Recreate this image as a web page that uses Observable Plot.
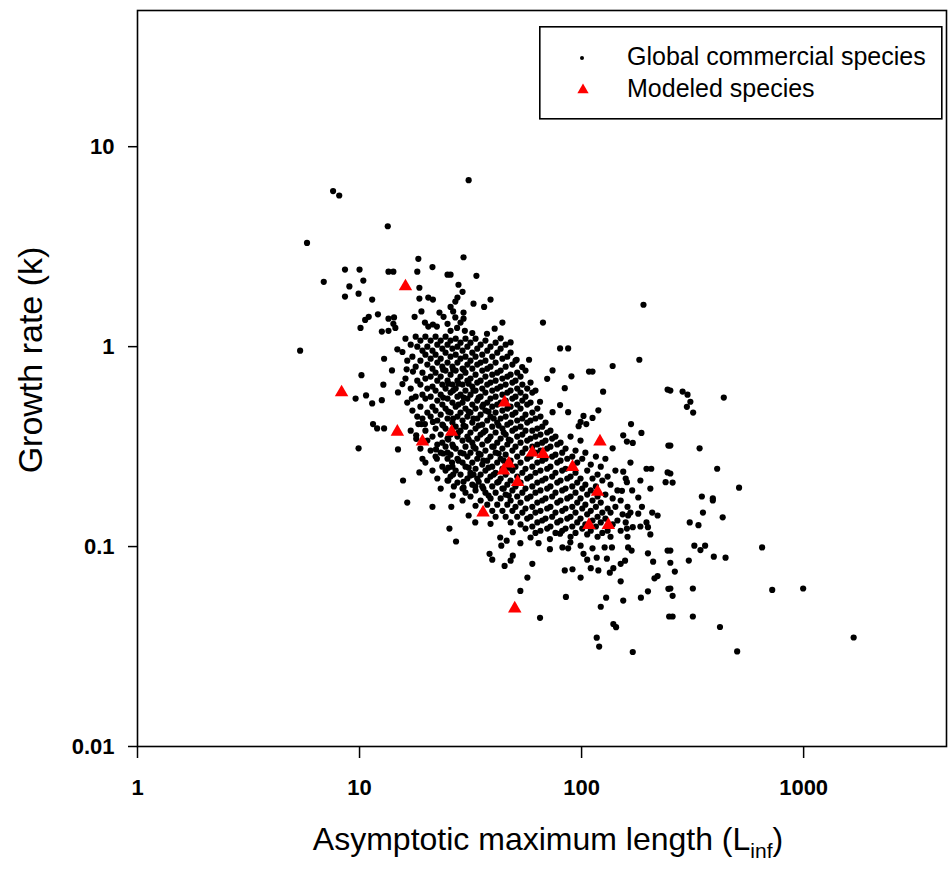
<!DOCTYPE html>
<html><head><meta charset="utf-8">
<script src="https://cdn.jsdelivr.net/npm/d3@7"></script>
<script src="https://cdn.jsdelivr.net/npm/@observablehq/plot@0.6"></script>
<style>
body{margin:0;background:#fff;font-family:"Liberation Sans",Arial,sans-serif}
#wrap{position:relative;width:948px;height:869px;overflow:hidden}
#xlab{position:absolute;left:548px;top:823px;transform:translateX(-50%);font-size:32px;line-height:32px;white-space:nowrap}
#xlab sub{font-size:21px;vertical-align:-8px;line-height:0}
#ylab{position:absolute;left:30px;top:360px;transform:translate(-50%,-50%) rotate(-90deg);font-size:34px;line-height:34px;white-space:nowrap}
#legend{position:absolute;left:539px;top:26px}
</style></head><body><div id="wrap"></div>
<script>
// Global commercial species: [Linf, k]
const globalPoints = [
[31,6.8],[7.6,6.0],[8.1,5.7],[13.4,4.0],[5.8,3.3],[18.4,2.75],[29.4,2.8],[21.3,2.5],[8.6,2.43],[10,2.43],
[13.5,2.37],[14.2,2.37],[18.2,2.37],[24.9,2.29],[25.7,2.29],[33.6,2.26],[6.9,2.11],[10.4,2.14],[9.0,2.0],[18.6,1.97],
[27.9,2.04],[29.1,1.88],[9.9,1.84],[8.6,1.78],[11.4,1.72],[18.6,1.74],[20.4,1.76],[21.4,1.72],[27.6,1.76],[27.0,1.68],
[32.6,1.64],[25.7,1.58],[11.0,1.41],[10.6,1.36],[12.1,1.45],[13.5,1.38],[14.3,1.40],[17.7,1.41],[19.0,1.5],[22.9,1.48],
[23.9,1.41],[26.4,1.5],[29.4,1.48],[27.0,1.40],[29.4,1.38],[19.7,1.32],[20.4,1.26],[21.4,1.29],[22.3,1.26],[10.1,1.24],
[12.6,1.19],[13.5,1.20],[14.2,1.30],[14.5,1.24],[24.9,1.30],[25.7,1.20],[27.5,1.24],[28.5,1.32],[29.8,1.20],[32.2,1.17],
[190,1.62],[67,1.32],[38.9,1.72],[36.4,1.58],[44,1.32],[40.6,1.23],[37.5,1.16],
[5.4,0.955],[10.2,0.72],[12.9,0.87],[14.0,0.76],[14.8,0.97],[15.6,0.94],[12.8,0.645],[15.6,0.65],[14.9,0.59],[9.6,0.55],
[10.7,0.57],[11.4,0.52],[12.6,0.54],[16.3,0.77],[17.4,0.75],[17.2,0.55],[11.5,0.41],[12.0,0.39],[12.9,0.39],[9.9,0.31],
[14.9,0.306],[18.0,0.36],[18.4,0.41],[19.0,0.41],[19.7,0.41],[21.4,0.42],[18.0,0.346],[22.1,0.306],[24.9,0.295],[26.1,0.263],
[22.3,0.275],[18.6,0.235],[15.7,0.214],[25.1,0.214],[26.6,0.20],[26.3,0.18],[29.4,0.197],[31.6,0.227],[33.2,0.20],
[80,0.98],[87,0.98],[182,0.86],[138,0.80],[108,0.75],[112,0.75],[125,0.595],[244,0.61],[74,0.76],[70,0.69],
[90,0.71],[84,0.62],[51,0.86],[58,0.86],[54,0.79],[65,0.53],[80,0.51],[87,0.47],[74,0.47],[102,0.45],
[112,0.44],[119,0.48],[99,0.42],[97,0.40],[105,0.41],[167,0.41],[154,0.36],[186,0.37],[170,0.33],[160,0.335],
[138,0.31],[246,0.32],[196,0.245],[206,0.245],[154,0.237],[160,0.21],[152,0.19],[244,0.235],[239,0.21],[180,0.176],
[38.9,0.13],[38.5,0.092],[39.6,0.086],[45,0.080],[47.9,0.085],[49,0.09],[60,0.082],[57,0.07],[53,0.06],[85,0.056],
[65,0.044],[99,0.07],[84,0.076],[91,0.077],[110,0.078],[119,0.076],[129,0.0555],[122,0.05],[154,0.0537],[185,0.0555],
[199,0.0597],[150,0.067],[139,0.041],[143,0.0395],[117,0.035],[120,0.0316],[170,0.0297],[220,0.143],[244,0.0955],[246,0.0615],
[248,0.0447],[213,0.0694],[220,0.0712],[210,0.084],[199,0.0925],
[180,0.146],[196,0.132],[199,0.125],[162,0.143],[160,0.123],[170,0.125],[43,0.111],[43.5,0.101],[46,0.107],[49,0.118],
[53,0.104],[58.9,0.111],[64,0.104],[72,0.109],[72,0.097],[80,0.116],[82,0.099],[87,0.098],[89,0.105],[99,0.101],
[102,0.092],[106,0.086],[112,0.098],[117,0.088],[127,0.099],[130,0.087],[137,0.099],[139,0.078],[134,0.074],[150,0.082],
[157,0.085],[168,0.0955],[162,0.099],
[16.4,0.166],[21.3,0.158],[25.9,0.158],[33.2,0.132],[25.4,0.123],[27.2,0.106],
[390,0.17],[352,0.148],[432,0.14],[307,0.132],[336,0.128],[322,0.101],[343,0.096],[360,0.101],[251,0.0955],[304,0.0851],
[394,0.089],[445,0.088],[650,0.099],[251,0.083],[263,0.075],[251,0.0617],[257,0.0567],[317,0.0617],[722,0.0607],[995,0.0617],
[257,0.0447],[317,0.0447],[420,0.0396],[502,0.0299],[1680,0.0351],
[285,0.596],[300,0.575],[309,0.53],[298,0.50],[318,0.468],[437,0.556],[251,0.603],[251,0.32],[340,0.31],[408,0.245],
[251,0.232],[257,0.209],[512,0.197],[348,0.178],[390,0.174],
// dense core
[16.1,1.096],[16.4,0.851],[16.1,0.692],[16.4,0.525],
[17,1.023],[17.3,0.891],[17,0.617],[17.3,0.479],[17,0.38],
[17.9,1.122],[18.2,1.0],[17.9,0.794],[18.2,0.676],[17.9,0.562],[18.2,0.447],
[18.8,1.072],[19.2,0.955],[18.8,0.851],[19.2,0.741],[18.8,0.646],[19.2,0.575],[18.8,0.501],[19.2,0.437],[18.8,0.309],[19.2,0.275],
[19.8,1.122],[20.2,1.0],[19.8,0.912],[20.2,0.813],[19.8,0.692],[20.2,0.617],[19.8,0.55],[20.2,0.468],[19.8,0.38],[20.2,0.339],[19.8,0.263],
[20.9,1.072],[21.3,0.955],[20.9,0.871],[21.3,0.776],[20.9,0.708],[21.3,0.631],[20.9,0.562],[21.3,0.501],[20.9,0.447],[21.3,0.355],[20.9,0.302],[21.3,0.24],
[22,1.122],[22.4,1.023],[22,0.912],[22.4,0.832],[22,0.741],[22.4,0.676],[22,0.603],[22.4,0.537],[22,0.479],[22.4,0.427],[22,0.389],[22.4,0.324],[22,0.282],[22.4,0.219],
[23.2,1.072],[23.6,0.977],[23.2,0.871],[23.6,0.794],[23.2,0.708],[23.6,0.646],[23.2,0.575],[23.6,0.513],[23.2,0.457],[23.6,0.407],[23.2,0.363],[23.6,0.331],[23.2,0.295],[23.6,0.251],[23.2,0.195],
[24.4,1.122],[24.9,1.023],[24.4,0.933],[24.9,0.832],[24.4,0.759],[24.9,0.676],[24.4,0.617],[24.9,0.55],[24.4,0.49],[24.9,0.437],[24.4,0.389],[24.9,0.347],[24.4,0.316],[24.9,0.275],[24.4,0.24],[24.9,0.214],
[25.7,1.072],[26.2,0.977],[25.7,0.891],[26.2,0.794],[25.7,0.724],[26.2,0.646],[25.7,0.589],[26.2,0.525],[25.7,0.468],[26.2,0.417],[25.7,0.363],[26.2,0.324],[25.7,0.288],[26.2,0.251],[25.7,0.224],
[27.1,1.096],[27.6,1.0],[27.1,0.912],[27.6,0.832],[27.1,0.759],[27.6,0.676],[27.1,0.617],[27.6,0.562],[27.1,0.501],[27.6,0.447],[27.1,0.398],[27.6,0.355],[27.1,0.309],[27.6,0.275],[27.1,0.24],[27.6,0.209],
[28.5,1.047],[29.1,0.955],[28.5,0.871],[29.1,0.776],[28.5,0.708],[29.1,0.646],[28.5,0.575],[29.1,0.525],[28.5,0.468],[29.1,0.427],[28.5,0.38],[29.1,0.339],[28.5,0.295],[29.1,0.263],[28.5,0.229],[29.1,0.195],
[30,1.096],[30.6,1.0],[30,0.891],[30.6,0.813],[30,0.741],[30.6,0.676],[30,0.603],[30.6,0.55],[30,0.49],[30.6,0.447],[30,0.398],[30.6,0.355],[30,0.316],[30.6,0.282],[30,0.251],[30.6,0.219],[30,0.186],
[31.6,1.047],[32.2,0.933],[31.6,0.851],[32.2,0.776],[31.6,0.692],[32.2,0.631],[31.6,0.575],[32.2,0.513],[31.6,0.468],[32.2,0.417],[31.6,0.372],[32.2,0.331],[31.6,0.295],[32.2,0.263],[31.6,0.234],[32.2,0.204],[31.6,0.178],
[33.3,1.096],[33.9,0.977],[33.3,0.891],[33.9,0.813],[33.3,0.724],[33.9,0.661],[33.3,0.603],[33.9,0.537],[33.3,0.49],[33.9,0.437],[33.3,0.389],[33.9,0.347],[33.3,0.309],[33.9,0.275],[33.3,0.245],[33.9,0.219],[33.3,0.191],
[35.1,1.023],[35.7,0.912],[35.1,0.832],[35.7,0.759],[35.1,0.676],[35.7,0.617],[35.1,0.562],[35.7,0.501],[35.1,0.457],[35.7,0.407],[35.1,0.363],[35.7,0.324],[35.1,0.288],[35.7,0.257],[35.1,0.229],[35.7,0.2],[35.1,0.17],
[36.9,1.072],[37.6,0.955],[36.9,0.851],[37.6,0.776],[36.9,0.708],[37.6,0.646],[36.9,0.589],[37.6,0.525],[36.9,0.479],[37.6,0.427],[36.9,0.38],[37.6,0.339],[36.9,0.302],[37.6,0.269],[36.9,0.24],[37.6,0.214],[36.9,0.186],[37.6,0.162],
[38.9,1.0],[39.6,0.891],[38.9,0.794],[39.6,0.724],[38.9,0.661],[39.6,0.603],[38.9,0.55],[39.6,0.501],[38.9,0.447],[39.6,0.398],[38.9,0.355],[39.6,0.316],[38.9,0.282],[39.6,0.251],[38.9,0.224],[39.6,0.2],[38.9,0.174],[39.6,0.151],
[41,1.047],[41.7,0.933],[41,0.832],[41.7,0.741],[41,0.676],[41.7,0.617],[41,0.562],[41.7,0.513],[41,0.468],[41.7,0.417],[41,0.372],[41.7,0.331],[41,0.295],[41.7,0.263],[41,0.234],[41.7,0.209],[41,0.186],[41.7,0.162],[41,0.141],
[43.2,0.977],[44,0.871],[43.2,0.759],[44,0.692],[43.2,0.631],[44,0.575],[43.2,0.525],[44,0.479],[43.2,0.437],[44,0.389],[43.2,0.347],[44,0.309],[43.2,0.275],[44,0.245],[43.2,0.219],[44,0.195],[43.2,0.174],[44,0.151],
[45.5,1.023],[46.3,0.891],[45.5,0.794],[46.3,0.708],[45.5,0.646],[46.3,0.589],[45.5,0.537],[46.3,0.49],[45.5,0.447],[46.3,0.407],[45.5,0.363],[46.3,0.324],[45.5,0.288],[46.3,0.257],[45.5,0.229],[46.3,0.204],[45.5,0.182],[46.3,0.162],[45.5,0.141],
[47.9,0.933],[48.8,0.813],[47.9,0.724],[48.8,0.661],[47.9,0.603],[48.8,0.55],[47.9,0.501],[48.8,0.457],[47.9,0.417],[48.8,0.38],[47.9,0.339],[48.8,0.302],[47.9,0.269],[48.8,0.24],[47.9,0.214],[48.8,0.191],[47.9,0.17],[48.8,0.151],[47.9,0.132],
[50.4,0.851],[51.3,0.741],[50.4,0.676],[51.3,0.617],[50.4,0.562],[51.3,0.513],[50.4,0.468],[51.3,0.427],[50.4,0.389],[51.3,0.355],[50.4,0.316],[51.3,0.282],[50.4,0.251],[51.3,0.224],[50.4,0.2],[51.3,0.178],[50.4,0.158],[51.3,0.141],
[53.1,0.708],[54.1,0.646],[53.1,0.589],[54.1,0.537],[53.1,0.49],[54.1,0.437],[53.1,0.398],[54.1,0.363],[53.1,0.331],[54.1,0.295],[53.1,0.263],[54.1,0.234],[53.1,0.209],[54.1,0.186],[53.1,0.166],[54.1,0.148],[53.1,0.129],
[55.9,0.759],[56.9,0.617],[55.9,0.562],[56.9,0.513],[55.9,0.457],[56.9,0.417],[55.9,0.38],[56.9,0.339],[55.9,0.309],[56.9,0.275],[55.9,0.245],[56.9,0.219],[55.9,0.195],[56.9,0.174],[55.9,0.155],[56.9,0.138],[55.9,0.123],
[58.9,0.661],[60,0.589],[58.9,0.525],[60,0.468],[58.9,0.427],[60,0.38],[58.9,0.347],[60,0.316],[58.9,0.282],[60,0.251],[58.9,0.224],[60,0.2],[58.9,0.178],[60,0.158],[58.9,0.141],[60,0.126],
[62,0.603],[63.2,0.49],[62,0.437],[63.2,0.389],[62,0.355],[63.2,0.324],[62,0.295],[63.2,0.263],[62,0.234],[63.2,0.209],[62,0.186],[63.2,0.166],[62,0.148],[63.2,0.132],[62,0.117],
[65.3,0.447],[66.5,0.398],[65.3,0.363],[66.5,0.331],[65.3,0.302],[66.5,0.269],[65.3,0.24],[66.5,0.214],[65.3,0.191],[66.5,0.17],[65.3,0.151],[66.5,0.135],[65.3,0.12],
[68.8,0.417],[70,0.372],[68.8,0.339],[70,0.309],[68.8,0.275],[70,0.245],[68.8,0.219],[70,0.195],[68.8,0.174],[70,0.155],[68.8,0.138],[70,0.123],
[72.4,0.38],[73.7,0.347],[72.4,0.316],[73.7,0.282],[72.4,0.251],[73.7,0.224],[72.4,0.2],[73.7,0.178],[72.4,0.158],[73.7,0.141],[72.4,0.126],
[76.3,0.355],[77.7,0.324],[76.3,0.288],[77.7,0.263],[76.3,0.234],[77.7,0.209],[76.3,0.186],[77.7,0.166],[76.3,0.148],[77.7,0.132],[76.3,0.117],
[80.4,0.331],[81.8,0.295],[80.4,0.269],[81.8,0.24],[80.4,0.214],[81.8,0.191],[80.4,0.17],[81.8,0.151],[80.4,0.135],[81.8,0.12],
[84.7,0.309],[86.2,0.275],[84.7,0.245],[86.2,0.219],[84.7,0.195],[86.2,0.174],[84.7,0.155],[86.2,0.138],[84.7,0.123],
[89.2,0.355],[90.8,0.282],[89.2,0.224],[90.8,0.2],[89.2,0.178],[90.8,0.158],[89.2,0.141],[90.8,0.126],[89.2,0.112],
[93.9,0.302],[95.6,0.263],[93.9,0.234],[95.6,0.209],[93.9,0.186],[95.6,0.166],[93.9,0.148],[95.6,0.132],[93.9,0.117],
[98.9,0.339],[100.7,0.275],[98.9,0.219],[100.7,0.195],[98.9,0.174],[100.7,0.155],[98.9,0.138],[100.7,0.123],
[104,0.295],[106,0.24],[104,0.204],[106,0.182],[104,0.162],[106,0.145],[104,0.129],[106,0.115],
[110,0.257],[112,0.219],[110,0.191],[112,0.17],[110,0.151],[112,0.135],[110,0.12],
[116,0.282],[118,0.229],[116,0.2],[118,0.178],[116,0.158],[118,0.141],[116,0.126],[118,0.112],
[122,0.251],[124,0.214],[122,0.166],[124,0.148],[122,0.132],[124,0.117],
[128,0.275],[131,0.224],[128,0.182],[131,0.155],[128,0.138],[131,0.12],
[135,0.204],[138,0.174],[135,0.148],[138,0.129],[135,0.112],
[142,0.24],[145,0.191],[142,0.158],[145,0.135],
[150,0.17],[153,0.145],[150,0.12],
[158,0.219],[161,0.158],[158,0.132],[161,0.112],
[166,0.263],[169,0.191],[166,0.148],
[184,0.214],[187,0.158],[184,0.126],
[204,0.195],[208,0.148],[204,0.115],
[43.2,1.10],[47.9,1.05],[35.7,0.148],[33.3,0.16],[31,0.143],[29.1,0.17],
// extra fill in the densest part
[23.8,0.767],[23.8,0.556],[23.8,0.403],[23.8,0.292],
[25.1,0.653],[25.1,0.473],[25.1,0.343],[25.1,0.248],
[26.4,0.767],[26.4,0.603],[26.4,0.437],[26.4,0.316],[26.4,0.229],
[27.9,0.653],[27.9,0.513],[27.9,0.372],[27.9,0.269],
[29.4,0.767],[29.4,0.556],[29.4,0.403],[29.4,0.292],[29.4,0.211],
[31.0,0.653],[31.0,0.473],[31.0,0.343],[31.0,0.248],
[32.6,0.603],[32.6,0.437],[32.6,0.316],[32.6,0.229],
[34.4,0.556],[34.4,0.403],[34.4,0.292],[34.4,0.211],
[36.1,0.513],[36.1,0.372],[36.1,0.269],[36.1,0.195],
[38.1,0.473],[38.1,0.343],[38.1,0.248],[38.1,0.18],
[40.2,0.437],[40.2,0.316],[40.2,0.229],
[42.3,0.403],[42.3,0.292],[42.3,0.211],
[44.6,0.372],[44.6,0.269],[44.6,0.195],
[47,0.343],[47,0.248],[47,0.18]
];
// Modeled species: [Linf, k]
const modeledPoints = [
[16.1,2.0],[8.3,0.59],[14.8,0.375],[19.2,0.335],[26,0.375],[45,0.525],[121,0.335],[60,0.295],[67,0.29],
[47,0.26],[44.5,0.24],[51.5,0.21],[91,0.25],[118,0.188],[36,0.148],[108,0.128],[132,0.128],[50,0.049]
];
const xTicks = [1, 10, 100, 1000];
const yTicks = [0.01, 0.1, 1, 10];
const legendLabels = ["Global commercial species", "Modeled species"];

const global = globalPoints.map(([L, k]) => ({L, k}));
const modeled = modeledPoints.map(([L, k]) => ({L, k}));
const fmt = d => String(d);

const chart = Plot.plot({
  width: 948, height: 869,
  marginLeft: 137, marginRight: 2, marginTop: 10, marginBottom: 123,
  x: {type: "log", domain: [1, 4400]},
  y: {type: "log", domain: [0.01, 48]},
  style: {fontFamily: "'Liberation Sans', Arial, sans-serif", background: "#fff", color: "#000"},
  marks: [
    Plot.axisX({ticks: xTicks, tickFormat: fmt, tickSize: 12, tickPadding: 21, fontSize: 22, fontWeight: "bold", label: null, strokeWidth: 1.5}),
    Plot.axisY({ticks: yTicks, tickFormat: fmt, tickSize: 9, tickPadding: 14, fontSize: 22, fontWeight: "bold", label: null, strokeWidth: 1.5}),
    Plot.frame({stroke: "#000", strokeWidth: 1.6}),
    Plot.dot(global, {x: "L", y: "k", r: 3.1, fill: "#000", stroke: "none"}),
    Plot.dot(modeled, {x: "L", y: "k", symbol: "triangle", r: 5, fill: "#ff0000", stroke: "none"})
  ]
});
const wrap = document.getElementById("wrap");
wrap.appendChild(chart);

const xlab = document.createElement("div");
xlab.id = "xlab";
xlab.innerHTML = "Asymptotic maximum length (L<sub>inf</sub>)";
wrap.appendChild(xlab);
const ylab = document.createElement("div");
ylab.id = "ylab";
ylab.textContent = "Growth rate (k)";
wrap.appendChild(ylab);

// legend box
const ns = "http://www.w3.org/2000/svg";
const lg = document.createElementNS(ns, "svg");
lg.setAttribute("id", "legend");
lg.setAttribute("width", 404); lg.setAttribute("height", 94);
lg.innerHTML = `<rect x="0.8" y="0.8" width="402" height="92" fill="#fff" stroke="#000" stroke-width="1.6"/>
<circle cx="43" cy="32" r="2" fill="#000"/>
<path d="${d3.symbol(d3.symbolTriangle, 55)()}" transform="translate(44,64)" fill="#ff0000"/>
<text x="88" y="39" font-size="25" font-family="Liberation Sans, Arial, sans-serif">${legendLabels[0]}</text>
<text x="88" y="71" font-size="25" font-family="Liberation Sans, Arial, sans-serif">${legendLabels[1]}</text>`;
wrap.appendChild(lg);
</script></body></html>
